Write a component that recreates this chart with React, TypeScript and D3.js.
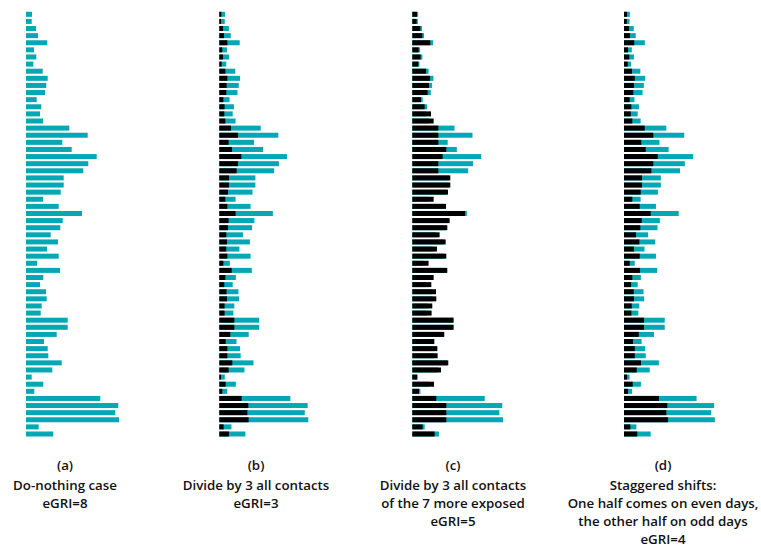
import React from "react";
import * as d3 from "d3";

// Baseline exposure per person (do-nothing case), top to bottom
const baseline = [6, 5.7, 10, 12, 21.3, 8, 10.3, 7.3, 16.7, 21.7, 20.3, 19, 10.7, 15.3, 14, 17, 43.3, 61.7, 36.3, 45.7, 70.7, 62.3, 57.3, 37.7, 37.7, 34.7, 17, 32.7, 56, 36.7, 34.3, 24.7, 32, 21, 32.7, 11, 34, 17.3, 14, 20, 20.7, 15.7, 14.7, 41.7, 41.7, 30.7, 18, 21.7, 22.3, 35.7, 26.3, 5.7, 17.3, 8.3, 74.3, 92.3, 89.3, 93, 12.7, 27.3];

// Exposure after intervention (b): divide by 3 all contacts
const divideAll = [2.1, 1.8, 3.9, 4.9, 8.4, 3.1, 3.9, 2.4, 6.3, 8.4, 7.6, 7.3, 4.2, 5.5, 5.2, 6.3, 12.2, 19.5, 9.7, 13.3, 23, 19.5, 18.1, 10.1, 10.1, 9.1, 6.3, 8.4, 17, 9.7, 9.1, 7.3, 8, 7.3, 8.4, 4.2, 12.9, 6.3, 5.2, 7.6, 8, 5.5, 5.5, 15.7, 15.7, 11.5, 6.6, 8.4, 8.4, 13.6, 9.7, 1.8, 6.6, 3.1, 23.3, 30.3, 29.3, 30.6, 4.5, 10.1];

// (c): divide by 3 all contacts of the 7 more exposed
const divideExposed = [4.8, 4.4, 8.2, 10.3, 18.5, 6.5, 8.5, 6.2, 14.1, 18.2, 17.1, 15.7, 8.9, 12.6, 19.2, 21.9, 26.7, 26.7, 26.7, 34.9, 31.1, 26.7, 26.7, 39, 39, 36.6, 21.9, 34.6, 54.1, 38.3, 35.9, 28, 34.2, 25.3, 34.9, 16.7, 35.9, 21.9, 19.5, 24.3, 24.6, 20.5, 19.8, 42.4, 42.4, 32.8, 22.6, 25.7, 26, 36.9, 29.4, 4.8, 22.3, 6.9, 24.6, 34.9, 34.9, 34.9, 10.6, 22.9];

// (d): staggered shifts
const staggered = [3.1, 2.8, 5.1, 6.1, 10.5, 4.1, 5.4, 3.8, 8.2, 11, 10.2, 9.5, 5.8, 7.5, 6.9, 8.5, 21.2, 30, 17.7, 22.2, 34.5, 30, 28, 18.4, 18.4, 17.1, 8.5, 16.1, 27.3, 18.1, 16.7, 12.3, 15.7, 10.2, 16.1, 5.8, 16.4, 8.5, 7.2, 9.9, 10.2, 7.9, 7.5, 20.5, 20.5, 15.1, 9.2, 11, 11, 17.4, 13, 3.1, 8.9, 4.1, 35.8, 44.3, 43.3, 45.1, 6.5, 13.6];

const panelLetters = ["(a)", "(b)", "(c)", "(d)"];
const panelCaptions = [
  ["Do-nothing case", "eGRI=8"],
  ["Divide by 3 all contacts", "eGRI=3"],
  ["Divide by 3 all contacts", "of the 7 more exposed", "eGRI=5"],
  ["Staggered shifts:", "One half comes on even days,", "the other half on odd days", "eGRI=4"],
];

const W = 761;
const H = 548;
const CYAN = "#04a7b3";

const panels = [
  { left: 26, width: 100, reduced: null as number[] | null, cx: 65 },
  { left: 219.3, width: 95.7, reduced: divideAll, cx: 256 },
  { left: 412.3, width: 97.5, reduced: divideExposed, cx: 453 },
  { left: 624, width: 97.7, reduced: staggered, cx: 663 },
];

export default function App() {
  const idx = baseline.map((_, i) => i);
  const y = d3.scalePoint<number>().domain(idx).range([14.3, 434]);
  const barH = 5;
  const fs = 13.3;
  return (
    <svg
      width={W}
      height={H}
      style={{ position: "absolute", left: 0, top: 0, background: "#fff" }}
      fontFamily="'Open Sans', sans-serif"
    >
      {panels.map((p, pi) => {
        const x = d3.scaleLinear().domain([0, 100]).range([p.left, p.left + p.width]);
        return (
          <g key={pi}>
            {baseline.map((v, i) => (
              <rect
                key={"c" + i}
                x={x(0)}
                y={(y(i) as number) - barH / 2}
                width={x(v) - x(0)}
                height={barH}
                fill={CYAN}
              />
            ))}
            {p.reduced &&
              p.reduced.map((v, i) => (
                <rect
                  key={"k" + i}
                  x={x(0)}
                  y={(y(i) as number) - barH / 2}
                  width={x(v) - x(0)}
                  height={barH}
                  fill="#000"
                />
              ))}
            <text x={p.cx} y={469.5} textAnchor="middle" fontSize={fs} fontWeight={600} fill="#111">
              {panelLetters[pi]}
            </text>
            {panelCaptions[pi].map((line, li) => (
              <text
                key={li}
                x={p.cx}
                y={489.5 + li * 18.3}
                textAnchor="middle"
                fontSize={fs}
                fontWeight={600}
                fill="#111"
              >
                {line}
              </text>
            ))}
          </g>
        );
      })}
    </svg>
  );
}
